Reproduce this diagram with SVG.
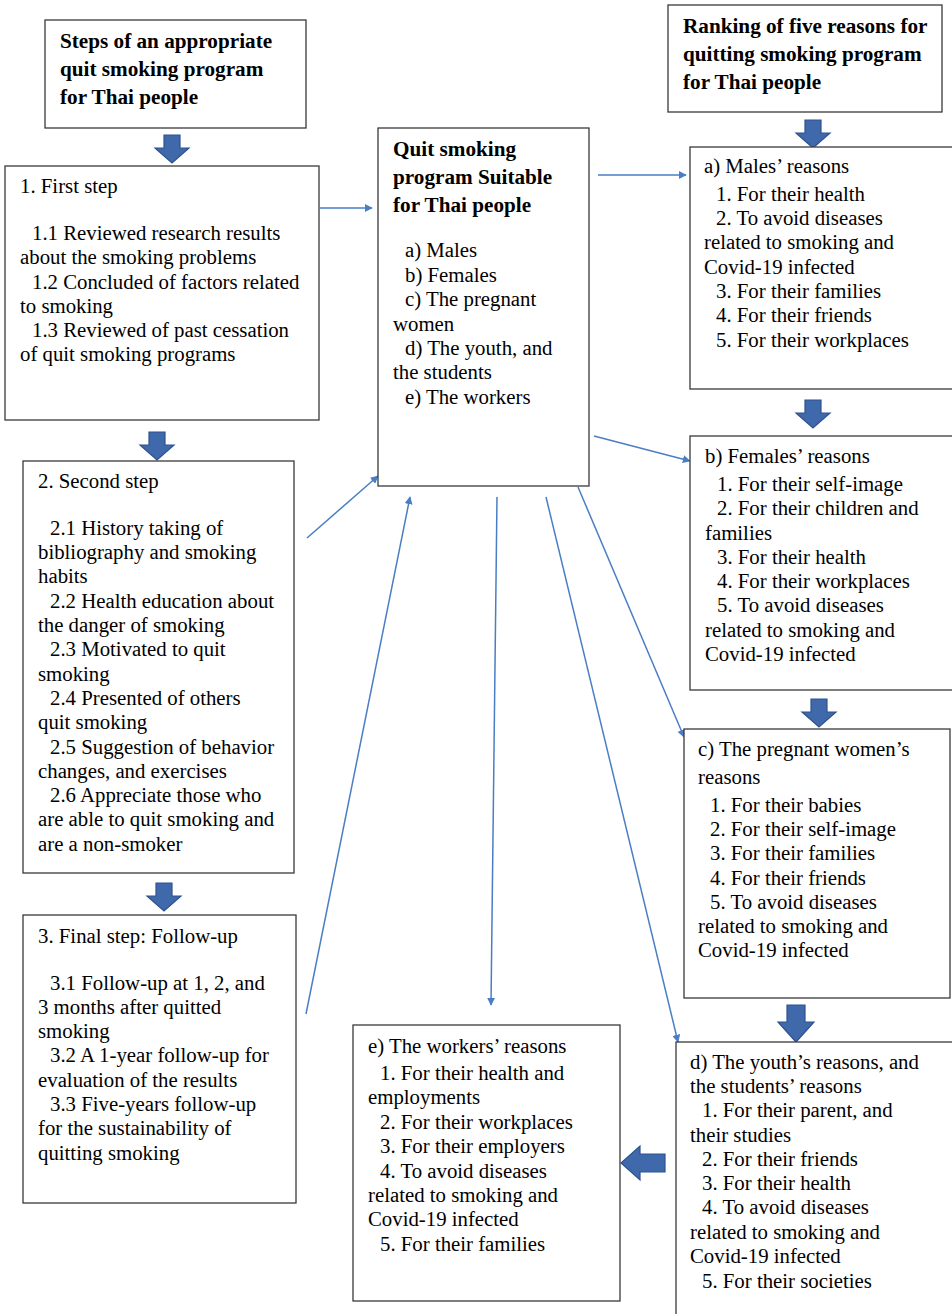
<svg xmlns="http://www.w3.org/2000/svg" width="952" height="1314" viewBox="0 0 952 1314">
<style>
.box{fill:#fff;stroke:#3a3a3a;stroke-width:1.3}
.t{font-family:"Liberation Serif","Times New Roman",serif;font-size:20.8px;fill:#000}
.b{font-family:"Liberation Serif","Times New Roman",serif;font-size:21.2px;font-weight:bold;fill:#000}
.c{stroke:#4a7ec4;stroke-width:1.5;fill:none;marker-end:url(#ah)}
.blk{fill:#3f69aa;stroke:#2f528f;stroke-width:1.2}
</style>
<defs>
<marker id="ah" viewBox="0 0 10 10" refX="9" refY="5" markerWidth="8" markerHeight="8" markerUnits="userSpaceOnUse" orient="auto">
<path d="M0,0 L10,5 L0,10 z" fill="#4a7ec4"/>
</marker>
<path id="dn" d="M-8,0 H8 V13 H17 L0,28 L-17,13 H-8 Z"/>
</defs>
<rect width="952" height="1314" fill="#fff"/>

<g id="connectors">
<line class="c" x1="320" y1="208" x2="372" y2="208"/>
<line class="c" x1="598" y1="175" x2="686" y2="175"/>
<line class="c" x1="594" y1="436" x2="690" y2="461"/>
<line class="c" x1="307" y1="538" x2="378" y2="476"/>
<line class="c" x1="306" y1="1014" x2="410" y2="497"/>
<line class="c" x1="497" y1="497" x2="491" y2="1005"/>
<line class="c" x1="546" y1="497" x2="678" y2="1042"/>
<line class="c" x1="578" y1="487" x2="684" y2="737"/>
</g>

<g id="block-arrows">
<use href="#dn" class="blk" x="172" y="135"/>
<use href="#dn" class="blk" x="157" y="432"/>
<use href="#dn" class="blk" x="164" y="883"/>
<use href="#dn" class="blk" x="813" y="120"/>
<use href="#dn" class="blk" x="813" y="400"/>
<use href="#dn" class="blk" x="819" y="699"/>
<path class="blk" d="M787,1005 H805 V1022 H814 L796,1042 L778,1022 H787 Z"/>
<path class="blk" d="M665,1154 H640 V1146 L621,1163 L640,1180 V1172 H665 Z"/>
</g>

<g id="title-steps">
<rect class="box" x="45" y="20" width="261" height="108"/>
<text class="b" x="60" y="48">Steps of an appropriate</text>
<text class="b" x="60" y="76">quit smoking program</text>
<text class="b" x="60" y="104">for Thai people</text>
</g>

<g id="title-ranking">
<rect class="box" x="668" y="5" width="274" height="107"/>
<text class="b" x="683" y="33">Ranking of five reasons for</text>
<text class="b" x="683" y="61">quitting smoking program</text>
<text class="b" x="683" y="89">for Thai people</text>
</g>

<g id="step1">
<rect class="box" x="5" y="166" width="314" height="254"/>
<text class="t" x="20" y="193">1. First step</text>
<text class="t" x="32" y="240">1.1 Reviewed research results</text>
<text class="t" x="20" y="264">about the smoking problems</text>
<text class="t" x="32" y="289">1.2 Concluded of factors related</text>
<text class="t" x="20" y="313">to smoking</text>
<text class="t" x="32" y="337">1.3 Reviewed of past cessation</text>
<text class="t" x="20" y="361">of quit smoking programs</text>
</g>

<g id="program">
<rect class="box" x="378" y="128" width="211" height="358"/>
<text class="b" x="393" y="156">Quit smoking</text>
<text class="b" x="393" y="184">program Suitable</text>
<text class="b" x="393" y="212">for Thai people</text>
<text class="t" x="405" y="257">a) Males</text>
<text class="t" x="405" y="282">b) Females</text>
<text class="t" x="405" y="306">c) The pregnant</text>
<text class="t" x="393" y="331">women</text>
<text class="t" x="405" y="355">d) The youth, and</text>
<text class="t" x="393" y="379">the students</text>
<text class="t" x="405" y="404">e) The workers</text>
</g>

<g id="step2">
<rect class="box" x="23" y="461" width="271" height="412"/>
<text class="t" x="38" y="488">2. Second step</text>
<text class="t" x="50" y="535">2.1 History taking of</text>
<text class="t" x="38" y="559">bibliography and smoking</text>
<text class="t" x="38" y="583">habits</text>
<text class="t" x="50" y="608">2.2 Health education about</text>
<text class="t" x="38" y="632">the danger of smoking</text>
<text class="t" x="50" y="656">2.3 Motivated to quit</text>
<text class="t" x="38" y="681">smoking</text>
<text class="t" x="50" y="705">2.4 Presented of others</text>
<text class="t" x="38" y="729">quit smoking</text>
<text class="t" x="50" y="754">2.5 Suggestion of behavior</text>
<text class="t" x="38" y="778">changes, and exercises</text>
<text class="t" x="50" y="802">2.6 Appreciate those who</text>
<text class="t" x="38" y="826">are able to quit smoking and</text>
<text class="t" x="38" y="851">are a non-smoker</text>
</g>

<g id="step3">
<rect class="box" x="23" y="915" width="273" height="288"/>
<text class="t" x="38" y="943">3. Final step: Follow-up</text>
<text class="t" x="50" y="990">3.1 Follow-up at 1, 2, and</text>
<text class="t" x="38" y="1014">3 months after quitted</text>
<text class="t" x="38" y="1038">smoking</text>
<text class="t" x="50" y="1062">3.2 A 1-year follow-up for</text>
<text class="t" x="38" y="1087">evaluation of the results</text>
<text class="t" x="50" y="1111">3.3 Five-years follow-up</text>
<text class="t" x="38" y="1135">for the sustainability of</text>
<text class="t" x="38" y="1160">quitting smoking</text>
</g>

<g id="males">
<rect class="box" x="690" y="147" width="270" height="242"/>
<text class="t" x="704" y="173">a) Males’ reasons</text>
<text class="t" x="716" y="201">1. For their health</text>
<text class="t" x="716" y="225">2. To avoid diseases</text>
<text class="t" x="704" y="249">related to smoking and</text>
<text class="t" x="704" y="274">Covid-19 infected</text>
<text class="t" x="716" y="298">3. For their families</text>
<text class="t" x="716" y="322">4. For their friends</text>
<text class="t" x="716" y="347">5. For their workplaces</text>
</g>

<g id="females">
<rect class="box" x="690" y="436" width="270" height="254"/>
<text class="t" x="705" y="463">b) Females’ reasons</text>
<text class="t" x="717" y="491">1. For their self-image</text>
<text class="t" x="717" y="515">2. For their children and</text>
<text class="t" x="705" y="540">families</text>
<text class="t" x="717" y="564">3. For their health</text>
<text class="t" x="717" y="588">4. For their workplaces</text>
<text class="t" x="717" y="612">5. To avoid diseases</text>
<text class="t" x="705" y="637">related to smoking and</text>
<text class="t" x="705" y="661">Covid-19 infected</text>
</g>

<g id="pregnant">
<rect class="box" x="684" y="729" width="266" height="269"/>
<text class="t" x="698" y="756">c) The pregnant women’s</text>
<text class="t" x="698" y="784">reasons</text>
<text class="t" x="710" y="812">1. For their babies</text>
<text class="t" x="710" y="836">2. For their self-image</text>
<text class="t" x="710" y="860">3. For their families</text>
<text class="t" x="710" y="885">4. For their friends</text>
<text class="t" x="710" y="909">5. To avoid diseases</text>
<text class="t" x="698" y="933">related to smoking and</text>
<text class="t" x="698" y="957">Covid-19 infected</text>
</g>

<g id="youth">
<rect class="box" x="676" y="1042" width="290" height="290"/>
<text class="t" x="690" y="1069">d) The youth’s reasons, and</text>
<text class="t" x="690" y="1093">the students’ reasons</text>
<text class="t" x="702" y="1117">1. For their parent, and</text>
<text class="t" x="690" y="1142">their studies</text>
<text class="t" x="702" y="1166">2. For their friends</text>
<text class="t" x="702" y="1190">3. For their health</text>
<text class="t" x="702" y="1214">4. To avoid diseases</text>
<text class="t" x="690" y="1239">related to smoking and</text>
<text class="t" x="690" y="1263">Covid-19 infected</text>
<text class="t" x="702" y="1288">5. For their societies</text>
</g>

<g id="workers">
<rect class="box" x="353" y="1025" width="267" height="276"/>
<text class="t" x="368" y="1053">e) The workers’ reasons</text>
<text class="t" x="380" y="1080">1. For their health and</text>
<text class="t" x="368" y="1104">employments</text>
<text class="t" x="380" y="1129">2. For their workplaces</text>
<text class="t" x="380" y="1153">3. For their employers</text>
<text class="t" x="380" y="1178">4. To avoid diseases</text>
<text class="t" x="368" y="1202">related to smoking and</text>
<text class="t" x="368" y="1226">Covid-19 infected</text>
<text class="t" x="380" y="1251">5. For their families</text>
</g>
</svg>
